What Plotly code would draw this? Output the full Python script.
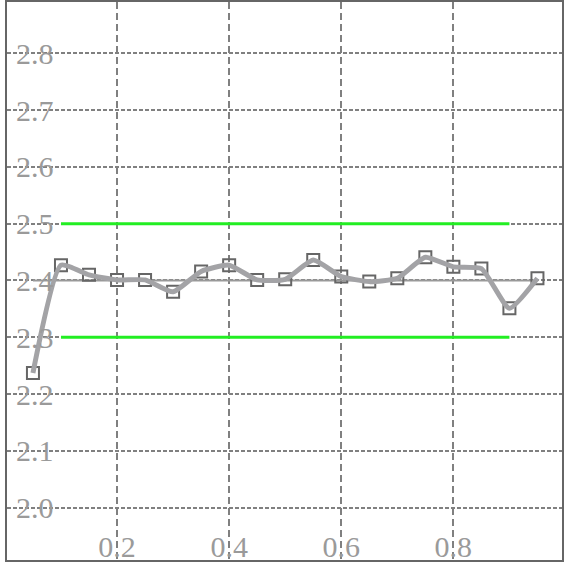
import plotly.graph_objects as go

x_vals = [0.05, 0.10, 0.15, 0.20, 0.25, 0.30, 0.35, 0.40, 0.45, 0.50,
          0.55, 0.60, 0.65, 0.70, 0.75, 0.80, 0.85, 0.90, 0.95]
y_vals = [2.237, 2.427, 2.410, 2.401, 2.401, 2.380, 2.416, 2.427, 2.401, 2.402,
          2.436, 2.407, 2.398, 2.404, 2.441, 2.424, 2.421, 2.351, 2.404]

center_x = [0.05, 0.95]
center_y = 2.4
limit_x = [0.10, 0.90]
upper_limit = 2.5
lower_limit = 2.3

x_ticks = [0.2, 0.4, 0.6, 0.8]
x_ticktext = ["0.2", "0.4", "0.6", "0.8"]
y_ticks = [2.0, 2.1, 2.2, 2.3, 2.4, 2.5, 2.6, 2.7, 2.8]
y_ticktext = ["2.0", "2.1", "2.2", "2.3", "2.4", "2.5", "2.6", "2.7", "2.8"]

fig = go.Figure()

fig.add_trace(go.Scatter(x=limit_x, y=[upper_limit] * 2, mode="lines",
                         line=dict(color="#22ee22", width=3), hoverinfo="skip"))
fig.add_trace(go.Scatter(x=limit_x, y=[lower_limit] * 2, mode="lines",
                         line=dict(color="#22ee22", width=3), hoverinfo="skip"))
fig.add_trace(go.Scatter(x=center_x, y=[center_y] * 2, mode="lines",
                         line=dict(color="#999999", width=2), hoverinfo="skip"))
fig.add_trace(go.Scatter(x=x_vals, y=y_vals, mode="markers",
                         marker=dict(symbol="square-open", size=12, color="#666666",
                                     line=dict(width=2, color="#666666"))))
fig.add_trace(go.Scatter(x=x_vals, y=y_vals, mode="lines",
                         line=dict(color="#a3a3a6", width=5, shape="spline", smoothing=0.5)))

tick_font = dict(family="Liberation Serif", size=30, color="#9a9a9a")

fig.update_layout(
    width=564, height=563,
    margin=dict(l=7, r=0, t=2, b=3),
    paper_bgcolor="white", plot_bgcolor="white",
    showlegend=False,
    xaxis=dict(range=[0.0037, 0.9938], tickvals=x_ticks, ticktext=x_ticktext,
               ticklabelposition="inside", tickfont=tick_font, ticks="",
               showgrid=True, gridcolor="#808080", gridwidth=2, griddash="7px,4px",
               showline=True, linecolor="#666666", linewidth=2, mirror=True,
               zeroline=False),
    yaxis=dict(range=[1.9075, 2.8907], tickvals=y_ticks, ticktext=y_ticktext,
               ticklabelposition="inside", tickfont=tick_font, ticks="",
               ticklabelstandoff=12,
               showgrid=True, gridcolor="#808080", gridwidth=2, griddash="4px,2px",
               showline=True, linecolor="#666666", linewidth=2, mirror=True,
               zeroline=False),
)

fig.write_html("out.html", config={"displayModeBar": False},
               post_script="document.body.style.margin='0';document.body.style.overflow='hidden';")
